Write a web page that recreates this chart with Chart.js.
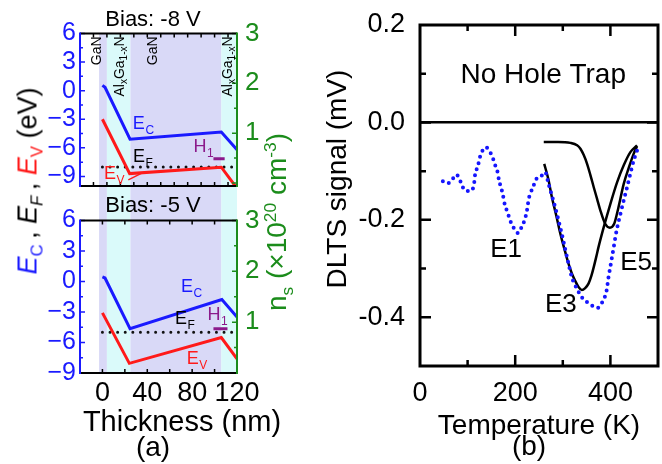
<!DOCTYPE html>
<html>
<head>
<meta charset="utf-8">
<script src="https://cdn.jsdelivr.net/npm/chart.js@4.4.0/dist/chart.umd.min.js"></script>
<style>
  body { margin: 0; background: #fff; }
  #wrap { position: relative; width: 662px; height: 464px; font-family: 'Liberation Sans', Arial, sans-serif; }
  canvas { position: absolute; }
  .lbl { position: absolute; white-space: nowrap; line-height: 1; transform: translate(-50%, -50%); }
  .rot { transform: translate(-50%, -50%) rotate(-90deg); }
  sub, sup { font-size: 0.62em; line-height: 0; }
</style>
</head>
<body>
<div id="wrap">
  <canvas id="biasTop" width="306" height="192" style="left:0;top:0"></canvas>
  <canvas id="biasBottom" width="306" height="272" style="left:0;top:192px"></canvas>
  <canvas id="dlts" width="356" height="464" style="left:306px;top:0"></canvas>

  <div class="lbl rot" style="left:28px;top:181px;font-size:27px">
    <span style="color:#1a1aff"><i>E</i><sub>C</sub></span>&#8201;, <i>E</i><sub><i>F</i></sub>&#8201;, <span style="color:#ff1a1a"><i>E</i><sub>V</sub></span> (eV)
  </div>
  <div class="lbl rot" style="left:277px;top:222px;font-size:28px;color:#1b8c1b">
    n<sub>s</sub> (×10<sup>20</sup> cm<sup>-3</sup>)
  </div>
  <div class="lbl rot" style="left:337px;top:179px;font-size:28px">DLTS signal (mV)</div>
  <div class="lbl" style="left:182px;top:421px;font-size:29px">Thickness (nm)</div>
  <div class="lbl" style="left:153px;top:447px;font-size:28px">(a)</div>
  <div class="lbl" style="left:529px;top:446px;font-size:28px">(b)</div>
</div>

<script>
// ---- panel (a): band diagram ----
const thickTicks = [0, 40, 80, 120];
const energyTicks = [-9, -6, -3, 0, 3, 6];
const densityTicks = [1, 2, 3];

// layer stack (nm)
const layerStart = [-3, 4, 25, 106];
const layerEnd = [4, 25, 106, 120];
const layerIsGaN = [true, false, true, false];
const layerTextX = [-5, 15.5, 45, 112.5];

// Bias -8 V
const ecX8 = [0, 2.3, 24.6, 106, 120];
const ecY8 = [0.55, 0.35, -5.1, -4.35, -6.2];
const evX8 = [0, 24.3, 106, 120];
const evY8 = [-3.0, -8.7, -8.03, -10.25];
const efX = [0, 120];
const efY8 = [-8, -8];
const h1X8 = [99, 109];
const h1Y8 = [-7.15, -7.15];
const evPointerX = [23.1, 35.1];
const evPointerY = [-9.35, -8.65];

// Bias -5 V
const ecX5 = [0, 2.3, 24.6, 106.5, 120];
const ecY5 = [0.44, 0.34, -4.65, -1.78, -3.5];
const evX5 = [0, 24, 106, 120];
const evY5 = [-3.09, -8.05, -5.52, -7.6];
const efY5 = [-5, -5];
const h1X5 = [99, 111.5];
const h1Y5 = [-4.65, -4.65];

// ---- panel (b): DLTS ----
const tempTicks = [0, 200, 400];
const signalTicks = [-0.4, -0.2, 0, 0.2];

const measT = [48, 58, 67, 76, 83, 88, 95, 104, 111, 114, 116, 121, 126, 130, 135, 140, 146, 153, 158, 163, 166, 170,
  174, 177, 181, 186, 191, 198, 206, 212, 218, 223, 226, 228, 233, 239, 242, 251, 257, 263, 270, 277, 284, 291, 298,
  305, 312, 319, 330, 340, 351, 361, 372, 383, 392, 396, 401, 407, 413, 421, 428, 435, 442, 449, 456];
const measV = [-0.121, -0.125, -0.118, -0.107, -0.116, -0.129, -0.140, -0.141, -0.136, -0.123, -0.105, -0.092, -0.071,
  -0.061, -0.052, -0.052, -0.059, -0.073, -0.088, -0.102, -0.119, -0.133, -0.148, -0.164, -0.177, -0.191, -0.205,
  -0.218, -0.227, -0.218, -0.205, -0.189, -0.173, -0.159, -0.143, -0.129, -0.118, -0.114, -0.108, -0.102, -0.126,
  -0.150, -0.174, -0.201, -0.229, -0.260, -0.290, -0.318, -0.342, -0.359, -0.369, -0.376, -0.381, -0.369, -0.345,
  -0.318, -0.290, -0.256, -0.222, -0.188, -0.160, -0.133, -0.105, -0.078, -0.058];

const e3T = [261, 270, 277, 286, 295, 304, 312, 319, 326, 333, 340, 347, 354, 360, 365, 370, 375, 386, 400, 414, 428, 442, 456];
const e3V = [-0.085, -0.118, -0.153, -0.190, -0.229, -0.262, -0.290, -0.310, -0.325, -0.338, -0.344, -0.340, -0.331,
  -0.315, -0.297, -0.277, -0.256, -0.215, -0.167, -0.123, -0.088, -0.061, -0.047];

const e5T = [260, 290, 316, 330, 337, 344, 351, 358, 365, 372, 379, 389, 399, 408, 417, 428, 439, 449, 456];
const e5V = [-0.040, -0.040, -0.042, -0.047, -0.054, -0.067, -0.085, -0.108, -0.133, -0.157, -0.181, -0.208, -0.216,
  -0.208, -0.174, -0.126, -0.092, -0.064, -0.049];

const blue = '#1a1aff', red = '#ff1a1a', green = '#1b8c1b', purple = '#8b1a8b';
const lavender = '#d9d9f7', cyan = '#dafafa';
const FONT = "'Liberation Sans', Arial, sans-serif";

Chart.defaults.font.family = FONT;
Chart.defaults.color = '#000';

const pts = (xs, ys) => xs.map((x, i) => ({ x, y: ys[i] }));
const fmtMinus = v => (v < 0 ? '\u2212' + Math.abs(v) : String(v));
// keep tick labels from pushing the plot area inwards
const noPad = s => { s.paddingTop = 0; s.paddingBottom = 0; };

function drawSub(ctx, x, y, main, sub, color, size) {
  ctx.fillStyle = color;
  ctx.textBaseline = 'middle';
  ctx.textAlign = 'center';
  ctx.font = size + 'px ' + FONT;
  ctx.fillText(main, x, y);
  const w = ctx.measureText(main).width;
  ctx.font = Math.round(size * 0.68) + 'px ' + FONT;
  ctx.textAlign = 'left';
  ctx.fillText(sub, x + w / 2 + 0.5, y + size * 0.38);
}

function drawLayerName(ctx, px, py, gan) {
  const parts = gan ? [['GaN', 0]] : [['Al', 0], ['x', 1], ['Ga', 0], ['1-x', 1], ['N', 0]];
  const fnt = s => (s ? '10px ' : '14px ') + FONT;
  ctx.save();
  ctx.translate(px, py);
  ctx.rotate(-Math.PI / 2);
  ctx.fillStyle = '#000';
  ctx.textBaseline = 'middle';
  ctx.textAlign = 'left';
  let total = 0;
  parts.forEach(([t, s]) => { ctx.font = fnt(s); total += ctx.measureText(t).width; });
  let cx = -total;
  parts.forEach(([t, s]) => {
    ctx.font = fnt(s);
    ctx.fillText(t, cx, s ? 4 : 0);
    cx += ctx.measureText(t).width;
  });
  ctx.restore();
}

// shading, frame, inward ticks and labels of the band diagrams
const bandDecor = {
  id: 'bandDecor',
  beforeDraw(chart, args, opts) {
    const { ctx, chartArea: a, scales: { x } } = chart;
    const top = opts.shadeToEdge === 'top' ? 0 : a.top;
    const bottom = opts.shadeToEdge === 'bottom' ? chart.height : a.bottom;
    ctx.save();
    layerStart.forEach((s, i) => {
      const x0 = x.getPixelForValue(s), x1 = x.getPixelForValue(layerEnd[i]);
      ctx.fillStyle = layerIsGaN[i] ? lavender : cyan;
      ctx.fillRect(x0, top, x1 - x0, bottom - top);
    });
    ctx.restore();
  },
  afterDraw(chart, args, opts) {
    const { ctx, chartArea: a, scales: { x, y, y1 } } = chart;
    ctx.save();
    ctx.lineWidth = 1.5;
    ctx.strokeStyle = '#000';
    ctx.beginPath();
    for (let v = opts.xTickFrom; v <= x.max; v += opts.xTickStep) {
      const p = x.getPixelForValue(v);
      ctx.moveTo(p, a.bottom); ctx.lineTo(p, a.bottom - 4);
      ctx.moveTo(p, a.top); ctx.lineTo(p, a.top + 4);
    }
    ctx.stroke();
    ctx.strokeStyle = blue;
    ctx.beginPath();
    for (let v = Math.ceil(y.min / 1.5) * 1.5; v <= y.max; v += 1.5) {
      const p = y.getPixelForValue(v);
      ctx.moveTo(a.left, p); ctx.lineTo(a.left + (v % 3 === 0 ? 5 : 3), p);
    }
    ctx.stroke();
    ctx.strokeStyle = green;
    ctx.beginPath();
    for (let v = 0; v <= y1.max; v += 0.5) {
      const p = y1.getPixelForValue(v);
      ctx.moveTo(a.right, p); ctx.lineTo(a.right - (v % 1 === 0 ? 5 : 3), p);
    }
    ctx.stroke();

    ctx.lineWidth = 2;
    ctx.strokeStyle = '#000';
    ctx.beginPath();
    ctx.moveTo(a.left, a.top); ctx.lineTo(a.right, a.top);
    ctx.moveTo(a.left, a.bottom); ctx.lineTo(a.right, a.bottom);
    ctx.stroke();
    ctx.strokeStyle = blue;
    ctx.beginPath(); ctx.moveTo(a.left, a.top - 1); ctx.lineTo(a.left, a.bottom + 1); ctx.stroke();
    ctx.strokeStyle = green;
    ctx.beginPath(); ctx.moveTo(a.right, a.top - 1); ctx.lineTo(a.right, a.bottom + 1); ctx.stroke();

    if (opts.layerNames) {
      layerTextX.forEach((lx, i) => drawLayerName(ctx, x.getPixelForValue(lx), a.top + 3, layerIsGaN[i]));
    }
    (opts.labels || []).forEach(l => {
      drawSub(ctx, x.getPixelForValue(l.x), y.getPixelForValue(l.y), l.main, l.sub, l.color, 18);
    });
    ctx.restore();
  }
};

function bandScales(yMin, y1Min, bottomAxis) {
  return {
    x: {
      type: 'linear', min: -20, max: 120,
      afterBuildTicks: s => { s.ticks = thickTicks.map(v => ({ value: v })); },
      afterFit: s => { s.height = bottomAxis ? 91 : 6; s.paddingLeft = 0; s.paddingRight = 0; },
      ticks: { display: bottomAxis, font: { size: 27 }, padding: 4, autoSkip: false, maxRotation: 0 },
      grid: { display: false, drawTicks: false },
      border: { display: false }
    },
    y: {
      position: 'left', min: yMin, max: 6,
      afterBuildTicks: s => { s.ticks = energyTicks.map(v => ({ value: v })); },
      afterFit: s => { s.width = 80; noPad(s); },
      ticks: { color: blue, font: { size: 25 }, padding: 4, autoSkip: false, callback: v => fmtMinus(v) },
      grid: { display: false, drawTicks: false },
      border: { display: false }
    },
    y1: {
      position: 'right', min: y1Min, max: 3,
      afterBuildTicks: s => { s.ticks = densityTicks.map(v => ({ value: v })); },
      afterFit: s => { s.width = 69; noPad(s); },
      ticks: { color: green, font: { size: 26 }, padding: 8, autoSkip: false },
      grid: { display: false, drawTicks: false },
      border: { display: false }
    }
  };
}

function bandDatasets(ecX, ecY, evX, evY, efY, h1X, h1Y, withPointer) {
  const sets = [
    { data: pts(ecX, ecY), borderColor: blue, borderWidth: 3 },
    { data: pts(evX, evY), borderColor: red, borderWidth: 3 },
    { data: pts(efX, efY), borderColor: '#111', borderWidth: 3, borderDash: [0, 7.6], borderCapStyle: 'round' },
    { data: pts(h1X, h1Y), borderColor: purple, borderWidth: 3 }
  ];
  if (withPointer) sets.push({ data: pts(evPointerX, evPointerY), borderColor: red, borderWidth: 1.5 });
  return sets.map(d => Object.assign({ pointRadius: 0, tension: 0, fill: false }, d));
}

const common = {
  responsive: false,
  animation: false,
  events: [],
  plugins: { legend: { display: false }, tooltip: { enabled: false } }
};

new Chart(document.getElementById('biasTop'), {
  type: 'line',
  data: { datasets: bandDatasets(ecX8, ecY8, evX8, evY8, efY8, h1X8, h1Y8, true) },
  options: Object.assign({}, common, {
    scales: bandScales(-10, -0.06, false),
    plugins: Object.assign({}, common.plugins, {
      title: { display: true, text: 'Bias: -8 V', font: { size: 22, weight: 'normal' }, padding: { top: 7, bottom: 0 } },
      bandDecor: {
        shadeToEdge: 'bottom', layerNames: true, xTickFrom: -8, xTickStep: 12,
        labels: [
          { main: 'E', sub: 'C', x: 32.5, y: -3.5, color: blue },
          { main: 'E', sub: 'F', x: 32.7, y: -6.96, color: '#000' },
          { main: 'E', sub: 'V', x: 6.8, y: -8.7, color: red },
          { main: 'H', sub: '1', x: 87, y: -5.9, color: purple }
        ]
      }
    })
  }),
  plugins: [bandDecor]
});

new Chart(document.getElementById('biasBottom'), {
  type: 'line',
  data: { datasets: bandDatasets(ecX5, ecY5, evX5, evY5, efY5, h1X5, h1Y5, false) },
  options: Object.assign({}, common, {
    scales: bandScales(-9, 0, true),
    plugins: Object.assign({}, common.plugins, {
      title: { display: true, text: 'Bias: -5 V', font: { size: 22, weight: 'normal' }, padding: { top: 1, bottom: 1 } },
      bandDecor: {
        shadeToEdge: 'top', layerNames: false, xTickFrom: 0, xTickStep: 20,
        labels: [
          { main: 'E', sub: 'C', x: 75.5, y: -0.55, color: blue },
          { main: 'E', sub: 'F', x: 70, y: -3.7, color: '#000' },
          { main: 'H', sub: '1', x: 99.6, y: -3.3, color: purple },
          { main: 'E', sub: 'V', x: 80.5, y: -7.6, color: red }
        ]
      }
    })
  }),
  plugins: [bandDecor]
});

// frame, inward ticks and annotations for the DLTS panel
const dltsDecor = {
  id: 'dltsDecor',
  afterDraw(chart, args, opts) {
    const { ctx, chartArea: a, scales: { x, y } } = chart;
    ctx.save();
    ctx.strokeStyle = '#000';
    ctx.lineWidth = 2.5;
    ctx.beginPath();
    for (let v = 100; v < x.max; v += 100) {
      const p = x.getPixelForValue(v), len = v % 200 === 0 ? 11 : 6;
      ctx.moveTo(p, a.bottom); ctx.lineTo(p, a.bottom - len);
      ctx.moveTo(p, a.top); ctx.lineTo(p, a.top + len);
    }
    for (let i = -4; i <= 1; i++) {
      const v = i / 10, p = y.getPixelForValue(v), len = i % 2 === 0 ? 11 : 6;
      ctx.moveTo(a.left, p); ctx.lineTo(a.left + len, p);
      ctx.moveTo(a.right, p); ctx.lineTo(a.right - len, p);
    }
    ctx.stroke();
    ctx.lineWidth = 3;
    ctx.strokeRect(a.left, a.top, a.right - a.left, a.bottom - a.top);

    ctx.fillStyle = '#000';
    ctx.textAlign = 'center';
    ctx.textBaseline = 'middle';
    opts.texts.forEach(t => {
      ctx.font = t.size + 'px ' + FONT;
      ctx.fillText(t.text, x.getPixelForValue(t.x), y.getPixelForValue(t.y));
    });
    ctx.restore();
  }
};

new Chart(document.getElementById('dlts'), {
  type: 'line',
  data: {
    datasets: [
      { data: pts(measT, measV), borderColor: '#1515ff', borderWidth: 4, borderDash: [0, 6.5], borderCapStyle: 'round',
        pointRadius: 0, cubicInterpolationMode: 'monotone' },
      { data: pts(e3T, e3V), borderColor: '#000', borderWidth: 2.5, pointRadius: 0, cubicInterpolationMode: 'monotone' },
      { data: pts(e5T, e5V), borderColor: '#000', borderWidth: 2.5, pointRadius: 0, cubicInterpolationMode: 'monotone' }
    ]
  },
  options: Object.assign({}, common, {
    layout: { padding: { top: 25, right: 4 } },
    scales: {
      x: {
        type: 'linear', min: 0, max: 500,
        afterBuildTicks: s => { s.ticks = tempTicks.map(v => ({ value: v })); },
        afterFit: s => { s.height = 98; s.paddingLeft = 0; s.paddingRight = 0; },
        ticks: { font: { size: 27 }, padding: 11, autoSkip: false, maxRotation: 0 },
        grid: { display: false, drawTicks: false },
        border: { display: false },
        title: { display: true, text: 'Temperature (K)', font: { size: 28 }, padding: { top: 0, bottom: 21 } }
      },
      y: {
        min: -0.5, max: 0.2,
        afterBuildTicks: s => { s.ticks = signalTicks.map(v => ({ value: v })); },
        afterFit: s => { s.width = 114; noPad(s); },
        ticks: { font: { size: 27 }, padding: 15, autoSkip: false, callback: v => v.toFixed(1) },
        grid: {
          drawTicks: false, lineWidth: 2.5,
          color: c => (c.tick && c.tick.value === 0 ? '#000' : 'rgba(0,0,0,0)')
        },
        border: { display: false }
      }
    },
    plugins: Object.assign({}, common.plugins, {
      dltsDecor: {
        texts: [
          { text: 'No Hole Trap', x: 259, y: 0.097, size: 28 },
          { text: 'E1', x: 181, y: -0.261, size: 26 },
          { text: 'E3', x: 296, y: -0.374, size: 26 },
          { text: 'E5', x: 454, y: -0.288, size: 26 }
        ]
      }
    })
  }),
  plugins: [dltsDecor]
});
</script>
</body>
</html>
